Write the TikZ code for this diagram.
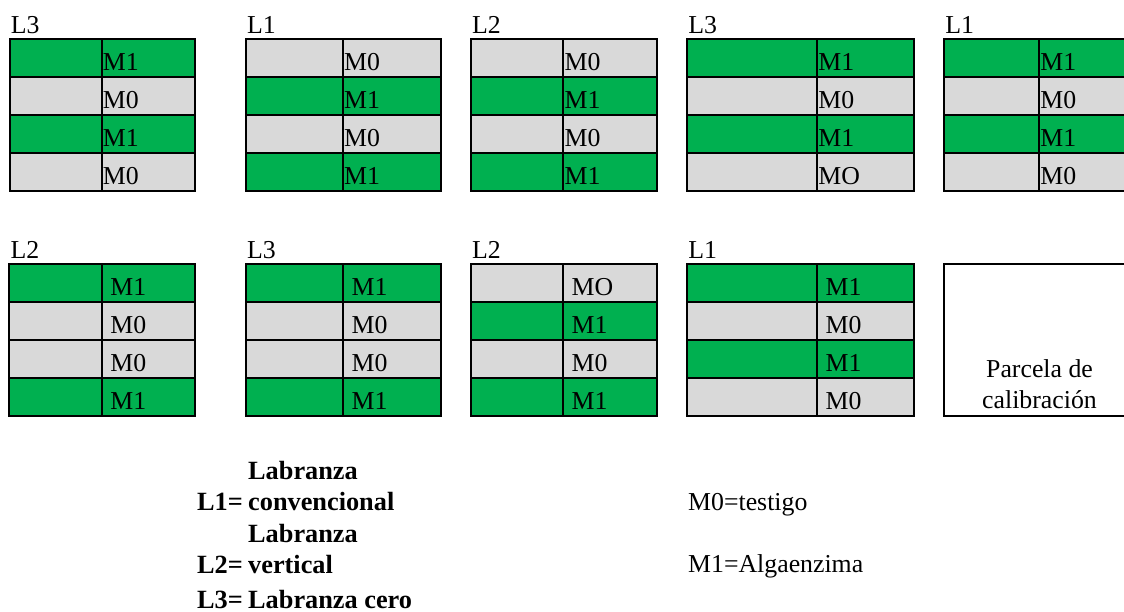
\documentclass[tikz,border=0pt]{standalone}
\usepackage{fontspec}
\setmainfont{Liberation Serif}
\definecolor{vgreen}{HTML}{00B050}
\definecolor{vgray}{HTML}{D9D9D9}
\tikzset{
  cellg/.style={fill=vgreen},
  cellm/.style={fill=vgray},
  gridline/.style={line width=2pt, draw=black},
  txt/.style={inner sep=0pt, anchor=base west, font=\fontsize{25.8}{31}\selectfont},
  leg/.style={inner sep=0pt, anchor=base west, font=\bfseries\fontsize{26.3}{31}\selectfont},
}
\newcommand\parcela[8]{%
  \node[txt] (#1-L) at (#3+1.2, #6-6.3) {#2};
  \foreach \m/\s [count=\i] in {#8} {
    \fill[\s] (#3, {#6+(\i-1)*37.85}) rectangle (#5, {#6+\i*37.85});
    \node[txt] (#1-\i) at (#4+#7, {#6+\i*37.85-6.2}) {\m};
  }
  \draw[gridline] (#3,#6) rectangle (#5,{#6+4*37.85});
  \draw[gridline] (#4,#6) -- (#4,{#6+4*37.85});
  \foreach \i in {1,2,3} \draw[gridline] (#3,{#6+\i*37.85}) -- (#5,{#6+\i*37.85});
}
\begin{document}
\begin{tikzpicture}[x=1pt, y=-1pt]
  \useasboundingbox (0,0) rectangle (1124,611);
  \clip (0,0) rectangle (1124,611);
  % top row
  \parcela{a1}{L3}{9.5}{101.5}{195}{39.3}{1.2}{M1/cellg,M0/cellm,M1/cellg,M0/cellm}
  \parcela{a2}{L1}{245.7}{342.7}{441}{39.3}{1.2}{M0/cellm,M1/cellg,M0/cellm,M1/cellg}
  \parcela{a3}{L2}{470.7}{563.3}{656.7}{39.3}{1.2}{M0/cellm,M1/cellg,M0/cellm,M1/cellg}
  \parcela{a4}{L3}{687}{817}{914}{39.3}{1.2}{M1/cellg,M0/cellm,M1/cellg,MO/cellm}
  \parcela{a5}{L1}{944}{1039}{1130}{39.3}{1.2}{M1/cellg,M0/cellm,M1/cellg,M0/cellm}
  % bottom row
  \parcela{b1}{L2}{9.3}{101.7}{195}{264.3}{8.5}{M1/cellg,M0/cellm,M0/cellm,M1/cellg}
  \parcela{b2}{L3}{245.7}{343}{441}{264.3}{8.5}{M1/cellg,M0/cellm,M0/cellm,M1/cellg}
  \parcela{b3}{L2}{470.7}{563}{656.7}{264.3}{8.5}{MO/cellm,M1/cellg,M0/cellm,M1/cellg}
  \parcela{b4}{L1}{687}{817}{914}{264.3}{8.5}{M1/cellg,M0/cellm,M1/cellg,M0/cellm}
  % calibration plot
  \draw[gridline] (944,264.3) rectangle (1134,415.7);
  \node[txt, anchor=base] (cal1) at (1039.5,377) {Parcela de};
  \node[txt, anchor=base] (cal2) at (1039.5,408.3) {calibración};
  % legend
  \node[leg] (lg1a) at (248,479) {Labranza};
  \node[leg] (lg1) at (197,510) {L1=};
  \node[leg] (lg1b) at (248,510) {convencional};
  \node[leg] (lg2a) at (248,542.3) {Labranza};
  \node[leg] (lg2) at (197,573.3) {L2=};
  \node[leg] (lg2b) at (248,573.3) {vertical};
  \node[leg] (lg3) at (197,608) {L3=};
  \node[leg] (lg3b) at (248,608) {Labranza cero};
  \node[txt] (m0) at (688,510) {M0=testigo};
  \node[txt] (m1) at (688,572.7) {M1=Algaenzima};
\end{tikzpicture}
\end{document}
